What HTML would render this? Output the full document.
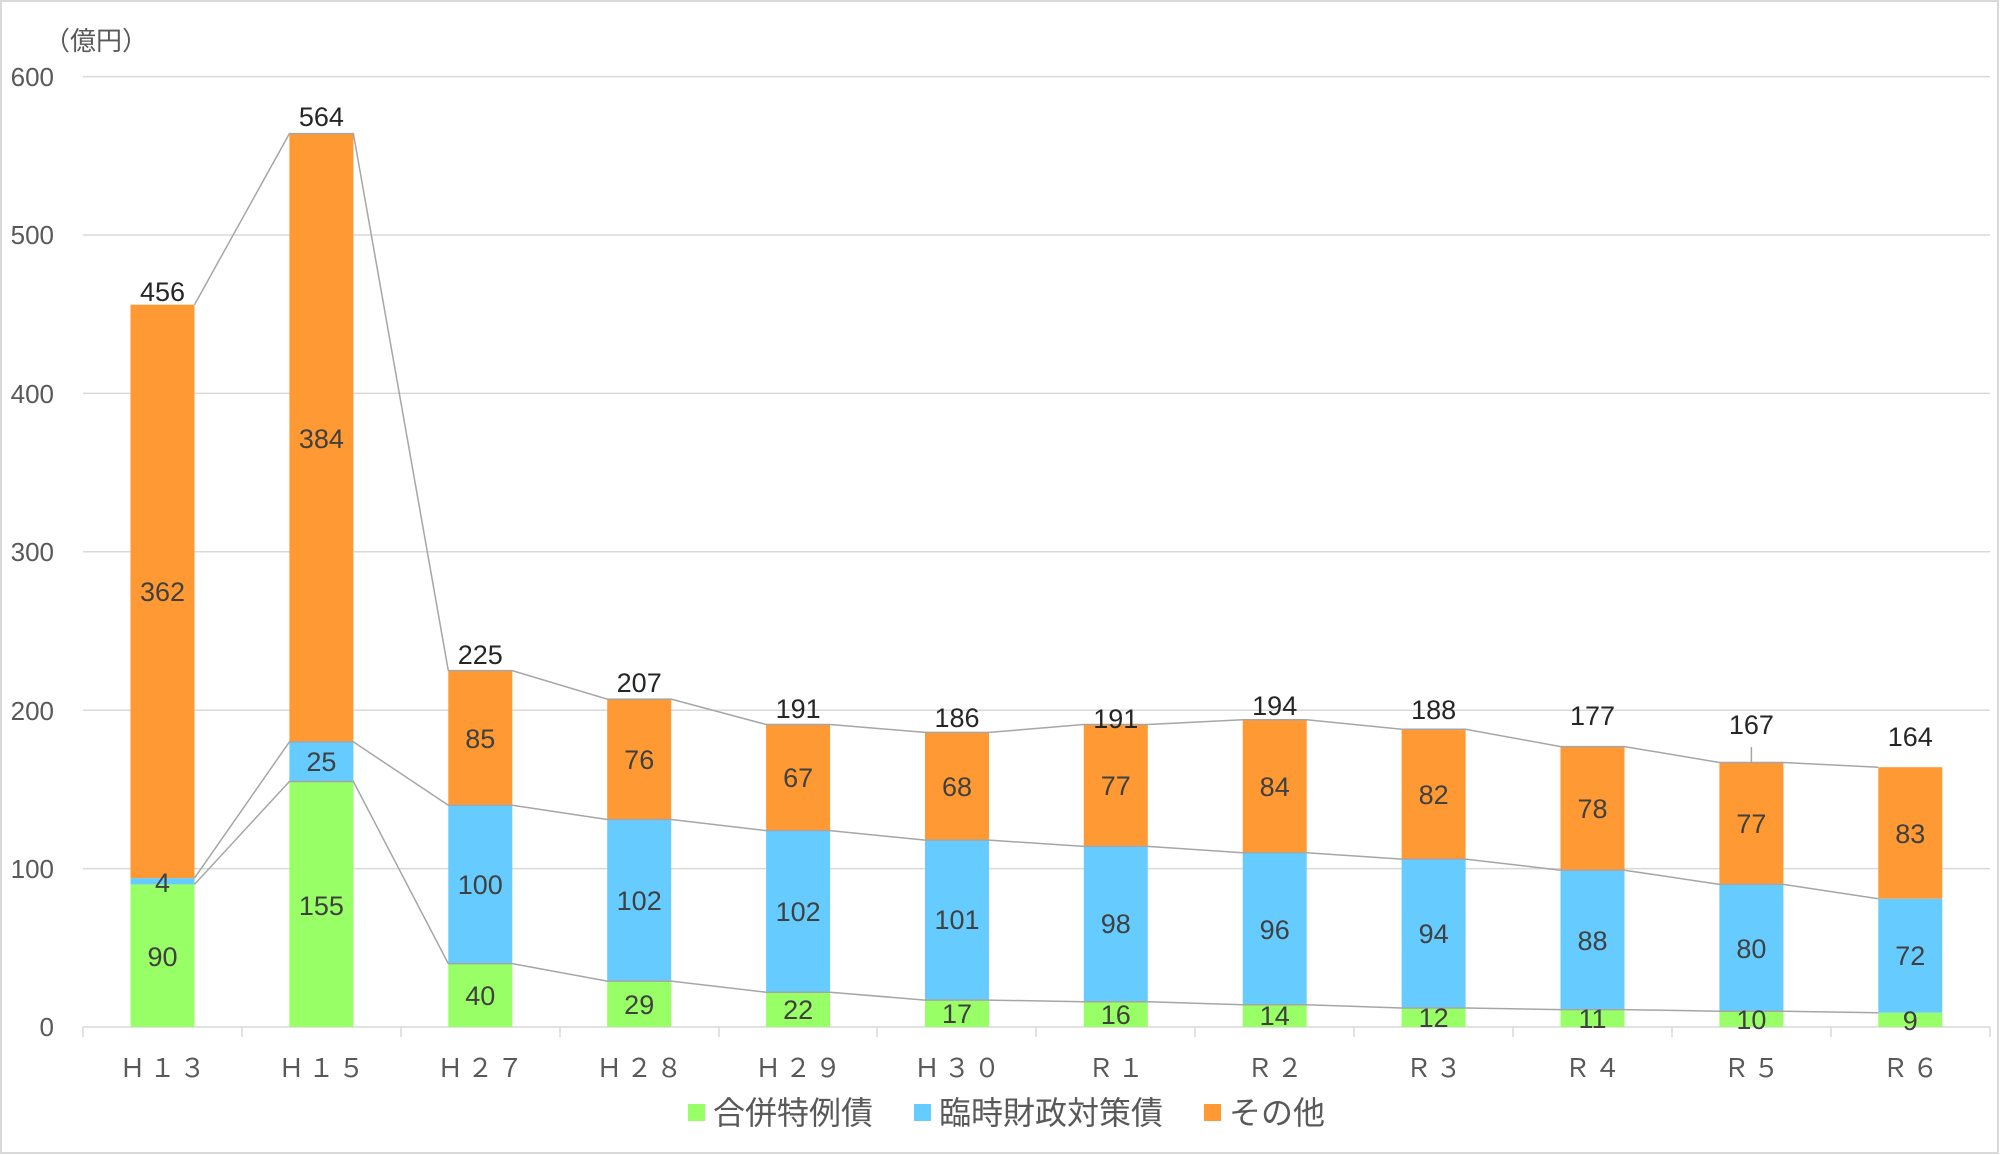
<!DOCTYPE html>
<html><head><meta charset="utf-8"><style>
html,body{margin:0;padding:0;background:#fff}
svg{display:block}
text{font-family:"Liberation Sans","Noto Sans CJK JP",sans-serif}
.v{font-size:27px;fill:#404040;text-anchor:middle}
.t{font-size:27px;fill:#262626;text-anchor:middle}
.ax{font-size:26px;fill:#595959}
.xl{font-size:26px;fill:#595959;text-anchor:middle;letter-spacing:4px}
.lg{font-size:32px;fill:#595959}
</style></head><body>
<svg width="2000" height="1155" viewBox="0 0 2000 1155">
<rect x="1" y="1" width="1997" height="1152" fill="#fff" stroke="#d9d9d9" stroke-width="2"/>
<g stroke="#d9d9d9" stroke-width="1.5">
<line x1="83" x2="1990" y1="76.6" y2="76.6"/>
<line x1="83" x2="1990" y1="235" y2="235"/>
<line x1="83" x2="1990" y1="393.4" y2="393.4"/>
<line x1="83" x2="1990" y1="551.8" y2="551.8"/>
<line x1="83" x2="1990" y1="710.2" y2="710.2"/>
<line x1="83" x2="1990" y1="868.6" y2="868.6"/>
<line x1="83" x2="1990" y1="1027" y2="1027"/>
<line x1="83" x2="83" y1="1027" y2="1037"/><line x1="242" x2="242" y1="1027" y2="1037"/><line x1="401" x2="401" y1="1027" y2="1037"/><line x1="560" x2="560" y1="1027" y2="1037"/><line x1="719" x2="719" y1="1027" y2="1037"/><line x1="877" x2="877" y1="1027" y2="1037"/><line x1="1036" x2="1036" y1="1027" y2="1037"/><line x1="1195" x2="1195" y1="1027" y2="1037"/><line x1="1354" x2="1354" y1="1027" y2="1037"/><line x1="1513" x2="1513" y1="1027" y2="1037"/><line x1="1672" x2="1672" y1="1027" y2="1037"/><line x1="1831" x2="1831" y1="1027" y2="1037"/><line x1="1990" x2="1990" y1="1027" y2="1037"/>
</g>
<g class="ax" text-anchor="end">
<text x="54" y="86">600</text><text x="54" y="244">500</text><text x="54" y="403">400</text><text x="54" y="561">300</text><text x="54" y="720">200</text><text x="54" y="878">100</text><text x="54" y="1036">0</text>
</g>
<text class="ax" x="44" y="50">（億円）</text>
<g>
<rect x="130.5" y="884.4" width="64" height="142.6" fill="#99ff66"/><rect x="130.5" y="878.1" width="64" height="6.3" fill="#66ccff"/><rect x="130.5" y="304.7" width="64" height="573.4" fill="#ff9933"/>
<rect x="289.4" y="781.5" width="64" height="245.5" fill="#99ff66"/><rect x="289.4" y="741.9" width="64" height="39.6" fill="#66ccff"/><rect x="289.4" y="133.6" width="64" height="608.3" fill="#ff9933"/>
<rect x="448.3" y="963.6" width="64" height="63.4" fill="#99ff66"/><rect x="448.3" y="805.2" width="64" height="158.4" fill="#66ccff"/><rect x="448.3" y="670.6" width="64" height="134.6" fill="#ff9933"/>
<rect x="607.2" y="981.1" width="64" height="45.9" fill="#99ff66"/><rect x="607.2" y="819.5" width="64" height="161.6" fill="#66ccff"/><rect x="607.2" y="699.1" width="64" height="120.4" fill="#ff9933"/>
<rect x="766.1" y="992.2" width="64" height="34.8" fill="#99ff66"/><rect x="766.1" y="830.6" width="64" height="161.6" fill="#66ccff"/><rect x="766.1" y="724.5" width="64" height="106.1" fill="#ff9933"/>
<rect x="925" y="1000.1" width="64" height="26.9" fill="#99ff66"/><rect x="925" y="840.1" width="64" height="160" fill="#66ccff"/><rect x="925" y="732.4" width="64" height="107.7" fill="#ff9933"/>
<rect x="1083.8" y="1001.7" width="64" height="25.3" fill="#99ff66"/><rect x="1083.8" y="846.4" width="64" height="155.3" fill="#66ccff"/><rect x="1083.8" y="724.5" width="64" height="121.9" fill="#ff9933"/>
<rect x="1242.7" y="1004.8" width="64" height="22.2" fill="#99ff66"/><rect x="1242.7" y="852.8" width="64" height="152" fill="#66ccff"/><rect x="1242.7" y="719.7" width="64" height="133.1" fill="#ff9933"/>
<rect x="1401.6" y="1008" width="64" height="19" fill="#99ff66"/><rect x="1401.6" y="859.1" width="64" height="148.9" fill="#66ccff"/><rect x="1401.6" y="729.2" width="64" height="129.9" fill="#ff9933"/>
<rect x="1560.5" y="1009.6" width="64" height="17.4" fill="#99ff66"/><rect x="1560.5" y="870.2" width="64" height="139.4" fill="#66ccff"/><rect x="1560.5" y="746.6" width="64" height="123.6" fill="#ff9933"/>
<rect x="1719.4" y="1011.2" width="64" height="15.8" fill="#99ff66"/><rect x="1719.4" y="884.4" width="64" height="126.8" fill="#66ccff"/><rect x="1719.4" y="762.5" width="64" height="121.9" fill="#ff9933"/>
<rect x="1878.3" y="1012.7" width="64" height="14.3" fill="#99ff66"/><rect x="1878.3" y="898.7" width="64" height="114" fill="#66ccff"/><rect x="1878.3" y="767.2" width="64" height="131.5" fill="#ff9933"/>
</g>
<g stroke="#a6a6a6" stroke-width="1.5" fill="none">
<polyline points="194.5,884.4 289.4,781.5 353.4,781.5 448.3,963.6 512.3,963.6 607.2,981.1 671.2,981.1 766.1,992.2 830.1,992.2 925,1000.1 989,1000.1 1083.8,1001.7 1147.8,1001.7 1242.7,1004.8 1306.7,1004.8 1401.6,1008 1465.6,1008 1560.5,1009.6 1624.5,1009.6 1719.4,1011.2 1783.4,1011.2 1878.3,1012.7"/>
<polyline points="194.5,878.1 289.4,741.9 353.4,741.9 448.3,805.2 512.3,805.2 607.2,819.5 671.2,819.5 766.1,830.6 830.1,830.6 925,840.1 989,840.1 1083.8,846.4 1147.8,846.4 1242.7,852.8 1306.7,852.8 1401.6,859.1 1465.6,859.1 1560.5,870.2 1624.5,870.2 1719.4,884.4 1783.4,884.4 1878.3,898.7"/>
<polyline points="194.5,304.7 289.4,133.6 353.4,133.6 448.3,670.6 512.3,670.6 607.2,699.1 671.2,699.1 766.1,724.5 830.1,724.5 925,732.4 989,732.4 1083.8,724.5 1147.8,724.5 1242.7,719.7 1306.7,719.7 1401.6,729.2 1465.6,729.2 1560.5,746.6 1624.5,746.6 1719.4,762.5 1783.4,762.5 1878.3,767.2"/>
<line x1="1751.4" y1="762.5" x2="1751.4" y2="747"/>
</g>
<g class="v">
<text x="162.5" y="966">90</text><text x="162.5" y="892">4</text><text x="162.5" y="601">362</text>
<text x="321.4" y="915">155</text><text x="321.4" y="771">25</text><text x="321.4" y="448">384</text>
<text x="480.3" y="1005">40</text><text x="480.3" y="894">100</text><text x="480.3" y="748">85</text>
<text x="639.2" y="1014">29</text><text x="639.2" y="910">102</text><text x="639.2" y="769">76</text>
<text x="798.1" y="1019">22</text><text x="798.1" y="921">102</text><text x="798.1" y="787">67</text>
<text x="957" y="1023">17</text><text x="957" y="929">101</text><text x="957" y="796">68</text>
<text x="1115.8" y="1024">16</text><text x="1115.8" y="933">98</text><text x="1115.8" y="795">77</text>
<text x="1274.7" y="1025">14</text><text x="1274.7" y="939">96</text><text x="1274.7" y="796">84</text>
<text x="1433.6" y="1027">12</text><text x="1433.6" y="943">94</text><text x="1433.6" y="804">82</text>
<text x="1592.5" y="1028">11</text><text x="1592.5" y="950">88</text><text x="1592.5" y="818">78</text>
<text x="1751.4" y="1029">10</text><text x="1751.4" y="958">80</text><text x="1751.4" y="833">77</text>
<text x="1910.3" y="1030">9</text><text x="1910.3" y="965">72</text><text x="1910.3" y="843">83</text>
</g>
<g class="t">
<text x="162.5" y="301">456</text><text x="321.4" y="126">564</text><text x="480.3" y="664">225</text><text x="639.2" y="692">207</text><text x="798.1" y="718">191</text><text x="957" y="727">186</text><text x="1115.8" y="728">191</text><text x="1274.7" y="715">194</text><text x="1433.6" y="719">188</text><text x="1592.5" y="725">177</text><text x="1751.4" y="734">167</text><text x="1910.3" y="746">164</text>
</g>
<g class="xl">
<text x="164.5" y="1077">Ｈ１３</text><text x="323.4" y="1077">Ｈ１５</text><text x="482.3" y="1077">Ｈ２７</text><text x="641.2" y="1077">Ｈ２８</text><text x="800.1" y="1077">Ｈ２９</text><text x="959" y="1077">Ｈ３０</text><text x="1117.8" y="1077">Ｒ１</text><text x="1276.7" y="1077">Ｒ２</text><text x="1435.6" y="1077">Ｒ３</text><text x="1594.5" y="1077">Ｒ４</text><text x="1753.4" y="1077">Ｒ５</text><text x="1912.3" y="1077">Ｒ６</text>
</g>
<rect x="688" y="1104" width="17" height="17" fill="#99ff66"/>
<text class="lg" x="713" y="1124">合併特例債</text>
<rect x="914" y="1104" width="17" height="17" fill="#66ccff"/>
<text class="lg" x="939" y="1124">臨時財政対策債</text>
<rect x="1204" y="1104" width="17" height="17" fill="#ff9933"/>
<text class="lg" x="1229" y="1124">その他</text>
</svg>
</body></html>
